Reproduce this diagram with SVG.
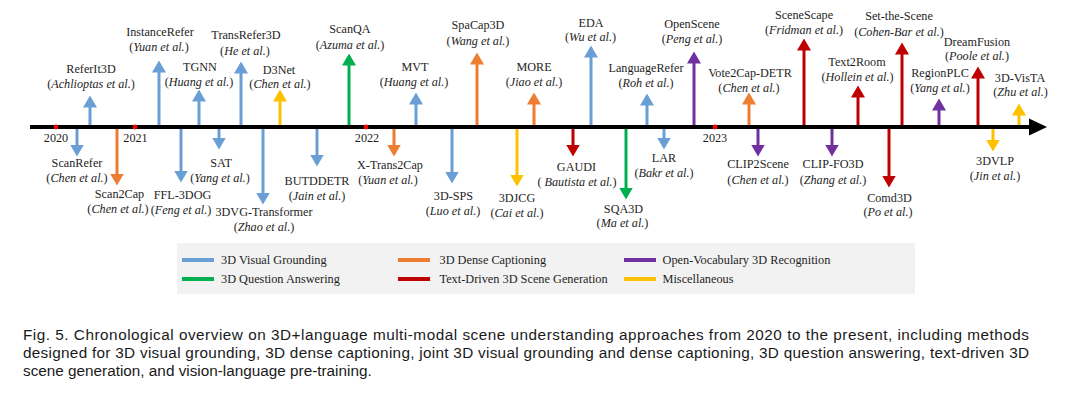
<svg xmlns="http://www.w3.org/2000/svg" width="1080" height="396" viewBox="0 0 1080 396">
<style>
.t{font-family:"Liberation Serif","Times New Roman",serif;font-size:12.2px;fill:#1e1e1e;text-anchor:middle}
.i{font-style:italic}
.yr{font-family:"Liberation Serif","Times New Roman",serif;font-size:12.2px;fill:#1e1e1e;text-anchor:middle}
.lg{font-family:"Liberation Serif","Times New Roman",serif;font-size:12.3px;fill:#1e1e1e}
.cap{font-family:"Liberation Sans",Arial,sans-serif;font-size:15.3px;fill:#1a1a1a}
.a{stroke-width:3;fill:none}
.blue{stroke:#6a9fd6}.orange{stroke:#ed7d31}.green{stroke:#00b050}.red{stroke:#c00000}.purple{stroke:#7030a0}.yellow{stroke:#ffc000}
.ab{marker-end:url(#h-blue)}.ao{marker-end:url(#h-orange)}.ag{marker-end:url(#h-green)}.ar{marker-end:url(#h-red)}.ap{marker-end:url(#h-purple)}.ay{marker-end:url(#h-yellow)}
.ls{stroke-width:4}
</style>
<defs>
<marker id="h-blue" viewBox="0 0 12 14" markerWidth="12" markerHeight="14" refX="0.5" refY="7" orient="auto" markerUnits="userSpaceOnUse"><path d="M0,0 L12,7 L0,14 z" fill="#6a9fd6"/></marker>
<marker id="h-orange" viewBox="0 0 12 14" markerWidth="12" markerHeight="14" refX="0.5" refY="7" orient="auto" markerUnits="userSpaceOnUse"><path d="M0,0 L12,7 L0,14 z" fill="#ed7d31"/></marker>
<marker id="h-green" viewBox="0 0 12 14" markerWidth="12" markerHeight="14" refX="0.5" refY="7" orient="auto" markerUnits="userSpaceOnUse"><path d="M0,0 L12,7 L0,14 z" fill="#00b050"/></marker>
<marker id="h-red" viewBox="0 0 12 14" markerWidth="12" markerHeight="14" refX="0.5" refY="7" orient="auto" markerUnits="userSpaceOnUse"><path d="M0,0 L12,7 L0,14 z" fill="#c00000"/></marker>
<marker id="h-purple" viewBox="0 0 12 14" markerWidth="12" markerHeight="14" refX="0.5" refY="7" orient="auto" markerUnits="userSpaceOnUse"><path d="M0,0 L12,7 L0,14 z" fill="#7030a0"/></marker>
<marker id="h-yellow" viewBox="0 0 12 14" markerWidth="12" markerHeight="14" refX="0.5" refY="7" orient="auto" markerUnits="userSpaceOnUse"><path d="M0,0 L12,7 L0,14 z" fill="#ffc000"/></marker>
</defs>
<rect width="1080" height="396" fill="#fff"/>

<g id="connectors">
<line class="a blue ab" x1="90" y1="127" x2="90" y2="107"/>
<line class="a blue ab" x1="159" y1="127" x2="159" y2="72"/>
<line class="a blue ab" x1="199" y1="127" x2="199" y2="101"/>
<line class="a blue ab" x1="241" y1="127" x2="241" y2="73"/>
<line class="a yellow ay" x1="280" y1="127" x2="280" y2="101"/>
<line class="a green ag" x1="349" y1="127" x2="349" y2="65"/>
<line class="a blue ab" x1="416" y1="127" x2="416" y2="104"/>
<line class="a orange ao" x1="477" y1="127" x2="477" y2="64"/>
<line class="a orange ao" x1="534" y1="127" x2="534" y2="104"/>
<line class="a blue ab" x1="591" y1="127" x2="591" y2="57"/>
<line class="a blue ab" x1="647" y1="127" x2="647" y2="105"/>
<line class="a purple ap" x1="694" y1="127" x2="694" y2="63"/>
<line class="a orange ao" x1="749" y1="127" x2="749" y2="104"/>
<line class="a red ar" x1="804" y1="127" x2="804" y2="50"/>
<line class="a red ar" x1="858" y1="127" x2="858" y2="97"/>
<line class="a red ar" x1="902" y1="127" x2="902" y2="54"/>
<line class="a purple ap" x1="939" y1="127" x2="939" y2="110"/>
<line class="a red ar" x1="978" y1="127" x2="978" y2="78"/>
<line class="a yellow ay" x1="1019" y1="127" x2="1019" y2="115"/>
<line class="a blue ab" x1="77" y1="127" x2="77" y2="145"/>
<line class="a orange ao" x1="117" y1="127" x2="117" y2="174"/>
<line class="a blue ab" x1="181" y1="127" x2="181" y2="171"/>
<line class="a blue ab" x1="219" y1="127" x2="219" y2="138"/>
<line class="a blue ab" x1="263" y1="127" x2="263" y2="193"/>
<line class="a blue ab" x1="317" y1="127" x2="317" y2="155"/>
<line class="a orange ao" x1="394" y1="127" x2="394" y2="145"/>
<line class="a blue ab" x1="452" y1="127" x2="452" y2="172"/>
<line class="a yellow ay" x1="517" y1="127" x2="517" y2="175"/>
<line class="a red ar" x1="573" y1="127" x2="573" y2="145"/>
<line class="a green ag" x1="626" y1="127" x2="626" y2="188"/>
<line class="a blue ab" x1="664" y1="127" x2="664" y2="138"/>
<line class="a purple ap" x1="758" y1="127" x2="758" y2="145"/>
<line class="a purple ap" x1="832" y1="127" x2="832" y2="145"/>
<line class="a red ar" x1="889" y1="127" x2="889" y2="176"/>
<line class="a yellow ay" x1="993" y1="127" x2="993" y2="140"/>
</g>

<g id="timeline">
<line x1="30" y1="127" x2="1031" y2="127" stroke="#000" stroke-width="4"/>
<polygon points="1029,118.5 1047,127 1029,135.5" fill="#000"/>
<circle cx="56" cy="127" r="2.4" fill="#f00"/>
<circle cx="135" cy="127" r="2.4" fill="#f00"/>
<circle cx="366" cy="127" r="2.4" fill="#f00"/>
<circle cx="715" cy="127" r="2.4" fill="#f00"/>
<text class="yr" x="56" y="141.5">2020</text>
<text class="yr" x="135.5" y="141.5">2021</text>
<text class="yr" x="367" y="141.5">2022</text>
<text class="yr" x="715" y="141.5">2023</text>
</g>

<g id="n-referit3d"><text class="t" x="91" y="73">ReferIt3D</text><text class="t" x="91" y="88">(<tspan class="i">Achlioptas et al.</tspan>)</text></g>
<g id="n-instancerefer"><text class="t" x="160" y="36">InstanceRefer</text><text class="t" x="159" y="51">(<tspan class="i">Yuan et al.</tspan>)</text></g>
<g id="n-tgnn"><text class="t" x="200" y="71">TGNN</text><text class="t" x="199" y="86">(<tspan class="i">Huang et al.</tspan>)</text></g>
<g id="n-transrefer3d"><text class="t" x="246" y="39">TransRefer3D</text><text class="t" x="245" y="55">(<tspan class="i">He et al.</tspan>)</text></g>
<g id="n-d3net"><text class="t" x="279" y="74">D3Net</text><text class="t" x="280" y="88">(<tspan class="i">Chen et al.</tspan>)</text></g>
<g id="n-scanqa"><text class="t" x="350" y="33">ScanQA</text><text class="t" x="350" y="49">(<tspan class="i">Azuma et al.</tspan>)</text></g>
<g id="n-mvt"><text class="t" x="415" y="71">MVT</text><text class="t" x="414" y="86">(<tspan class="i">Huang et al.</tspan>)</text></g>
<g id="n-spacap3d"><text class="t" x="478" y="29">SpaCap3D</text><text class="t" x="478" y="45">(<tspan class="i">Wang et al.</tspan>)</text></g>
<g id="n-more"><text class="t" x="534" y="71">MORE</text><text class="t" x="534" y="86">(<tspan class="i">Jiao et al.</tspan>)</text></g>
<g id="n-eda"><text class="t" x="591" y="27">EDA</text><text class="t" x="590.5" y="41">(<tspan class="i">Wu et al.</tspan>)</text></g>
<g id="n-languagerefer"><text class="t" x="646" y="72">LanguageRefer</text><text class="t" x="646" y="87">(<tspan class="i">Roh et al.</tspan>)</text></g>
<g id="n-openscene"><text class="t" x="692" y="28">OpenScene</text><text class="t" x="692" y="43">(<tspan class="i">Peng et al.</tspan>)</text></g>
<g id="n-vote2cap"><text class="t" x="750" y="77">Vote2Cap-DETR</text><text class="t" x="749" y="92">(<tspan class="i">Chen et al.</tspan>)</text></g>
<g id="n-scenescape"><text class="t" x="804" y="19">SceneScape</text><text class="t" x="804" y="34">(<tspan class="i">Fridman et al.</tspan>)</text></g>
<g id="n-text2room"><text class="t" x="857" y="66">Text2Room</text><text class="t" x="857.5" y="81">(<tspan class="i">Hollein et al.</tspan>)</text></g>
<g id="n-setthescene"><text class="t" x="899" y="20">Set-the-Scene</text><text class="t" x="899" y="36">(<tspan class="i">Cohen-Bar et al.</tspan>)</text></g>
<g id="n-regionplc"><text class="t" x="940" y="77">RegionPLC</text><text class="t" x="940" y="92">(<tspan class="i">Yang et al.</tspan>)</text></g>
<g id="n-dreamfusion"><text class="t" x="977" y="46">DreamFusion</text><text class="t" x="977" y="60">(<tspan class="i">Poole et al.</tspan>)</text></g>
<g id="n-3dvista"><text class="t" x="1020" y="82">3D-VisTA</text><text class="t" x="1020.5" y="96">(<tspan class="i">Zhu et al.</tspan>)</text></g>

<g id="n-scanrefer"><text class="t" x="77" y="167">ScanRefer</text><text class="t" x="77" y="182">(<tspan class="i">Chen et al.</tspan>)</text></g>
<g id="n-scan2cap"><text class="t" x="119.5" y="198">Scan2Cap</text><text class="t" x="118" y="213">(<tspan class="i">Chen et al.</tspan>)</text></g>
<g id="n-ffl3dog"><text class="t" x="182.5" y="199">FFL-3DOG</text><text class="t" x="181" y="214">(<tspan class="i">Feng et al.</tspan>)</text></g>
<g id="n-sat"><text class="t" x="221" y="167">SAT</text><text class="t" x="220" y="182">(<tspan class="i">Yang et al.</tspan>)</text></g>
<g id="n-3dvgtransformer"><text class="t" x="264" y="216">3DVG-Transformer</text><text class="t" x="264" y="231">(<tspan class="i">Zhao et al.</tspan>)</text></g>
<g id="n-butddetr"><text class="t" x="317" y="185">BUTDDETR</text><text class="t" x="317" y="200">(<tspan class="i">Jain et al.</tspan>)</text></g>
<g id="n-xtrans2cap"><text class="t" x="390" y="169">X-Trans2Cap</text><text class="t" x="388" y="184">(<tspan class="i">Yuan et al.</tspan>)</text></g>
<g id="n-3dsps"><text class="t" x="453.5" y="200">3D-SPS</text><text class="t" x="453" y="215">(<tspan class="i">Luo et al.</tspan>)</text></g>
<g id="n-3djcg"><text class="t" x="517" y="202">3DJCG</text><text class="t" x="517" y="217">(<tspan class="i">Cai et al.</tspan>)</text></g>
<g id="n-gaudi"><text class="t" x="576.5" y="171">GAUDI</text><text class="t" x="577" y="186">( <tspan class="i">Bautista et al.</tspan>)</text></g>
<g id="n-sqa3d"><text class="t" x="623.5" y="213">SQA3D</text><text class="t" x="622.5" y="227">(<tspan class="i">Ma et al.</tspan>)</text></g>
<g id="n-lar"><text class="t" x="664" y="162">LAR</text><text class="t" x="664" y="177">(<tspan class="i">Bakr et al.</tspan>)</text></g>
<g id="n-clip2scene"><text class="t" x="758" y="168">CLIP2Scene</text><text class="t" x="758" y="184">(<tspan class="i">Chen et al.</tspan>)</text></g>
<g id="n-clipfo3d"><text class="t" x="833" y="168">CLIP-FO3D</text><text class="t" x="833" y="184">(<tspan class="i">Zhang et al.</tspan>)</text></g>
<g id="n-comd3d"><text class="t" x="889.5" y="202">Comd3D</text><text class="t" x="888" y="216">(<tspan class="i">Po et al.</tspan>)</text></g>
<g id="n-3dvlp"><text class="t" x="995" y="165">3DVLP</text><text class="t" x="995" y="180">(<tspan class="i">Jin et al.</tspan>)</text></g>

<g id="legend">
<rect x="177" y="243" width="738" height="51" fill="#f2f2f2"/>
<line class="ls blue" x1="182" y1="260" x2="214" y2="260"/>
<line class="ls orange" x1="398" y1="260" x2="430" y2="260"/>
<line class="ls purple" x1="624" y1="260" x2="656" y2="260"/>
<line class="ls green" x1="182" y1="279" x2="214" y2="279"/>
<line class="ls red" x1="398" y1="279" x2="430" y2="279"/>
<line class="ls yellow" x1="624" y1="279" x2="656" y2="279"/>
<text class="lg" x="221" y="264">3D Visual Grounding</text>
<text class="lg" x="439.5" y="264">3D Dense Captioning</text>
<text class="lg" x="662.5" y="264">Open-Vocabulary 3D Recognition</text>
<text class="lg" x="221" y="283">3D Question Answering</text>
<text class="lg" x="439.5" y="283">Text-Driven 3D Scene Generation</text>
<text class="lg" x="662.5" y="283">Miscellaneous</text>
</g>

<g id="caption">
<text class="cap" x="23" y="340" textLength="1006" lengthAdjust="spacing">Fig. 5. Chronological overview on 3D+language multi-modal scene understanding approaches from 2020 to the present, including methods</text>
<text class="cap" x="23" y="358" textLength="1006" lengthAdjust="spacing">designed for 3D visual grounding, 3D dense captioning, joint 3D visual grounding and dense captioning, 3D question answering, text-driven 3D</text>
<text class="cap" x="23" y="376">scene generation, and vision-language pre-training.</text>
</g>
</svg>
